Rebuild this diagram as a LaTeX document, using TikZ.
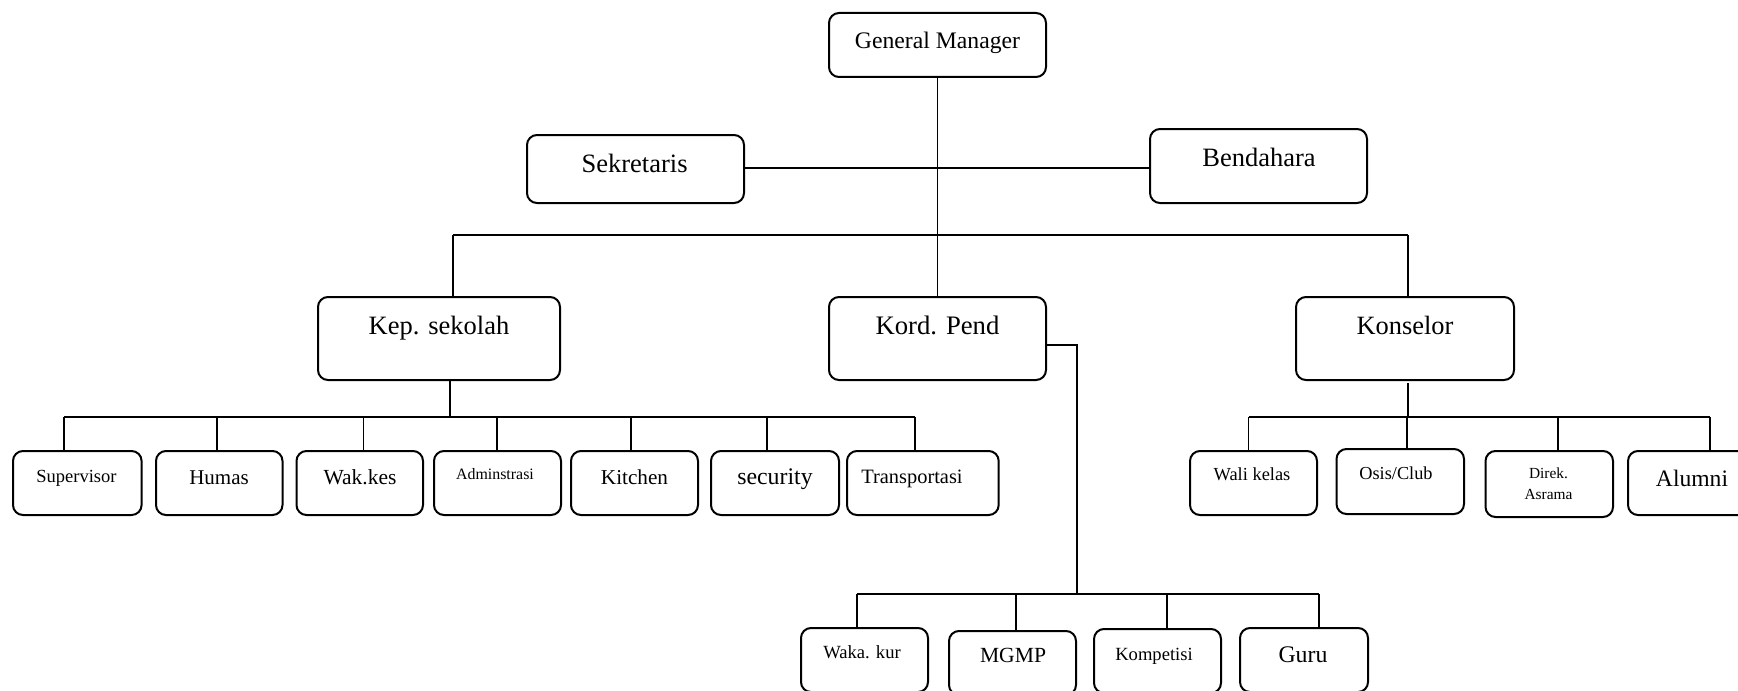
\documentclass[tikz,border=0pt]{standalone}
\usepackage{fontspec}
\setmainfont{Liberation Serif}
\newcommand\fsz[1]{\fontsize{#1}{#1}\selectfont}
\tikzset{
  obox/.style={draw, rounded corners=5pt, line width=1pt, inner sep=0pt, outer sep=0pt},
  conn/.style={line width=0.8pt},
  lbl/.style={anchor=base, inner sep=0pt, outer sep=0pt},
}
\newcommand\mkbox[5]{\node[obox, minimum width=#4*0.5pt, minimum height=#5*0.5pt] (#1) at (#2,#3) {};}
\begin{document}
\begin{tikzpicture}[x=0.5pt, y=-0.5pt]
\useasboundingbox (0,0) rectangle (1738,690);
\clip (0,0) rectangle (1738,690);
% ---- top level boxes
\mkbox{gm}{937.5}{45}{217}{64}
\mkbox{sek}{635.5}{169}{217}{68}
\mkbox{ben}{1258.5}{166}{217}{74}
\mkbox{kep}{439}{338.5}{242}{83}
\mkbox{kord}{937.5}{338.5}{217}{83}
\mkbox{kon}{1405}{338.5}{218}{83}
% ---- left row
\mkbox{sup}{77.3}{483}{128.6}{64}
\mkbox{hum}{219.25}{483}{126.5}{64}
\mkbox{wak}{359.75}{483}{126.5}{64}
\mkbox{adm}{497.5}{483}{127}{64}
\mkbox{kit}{634.5}{483}{127}{64}
\mkbox{sec}{775}{483}{128}{64}
\mkbox{tra}{922.85}{483}{151.7}{64}
% ---- right row
\mkbox{wal}{1253.5}{483}{127}{64}
\mkbox{osi}{1400.25}{481.5}{127.5}{65}
\mkbox{dir}{1549.25}{484}{127.5}{66}
\mkbox{alu}{1691.5}{483}{127}{64}
% ---- bottom row
\mkbox{wk}{864.5}{660}{127}{64}
\mkbox{mg}{1012.5}{663}{127}{64}
\mkbox{ko}{1157.5}{661}{127}{64}
\mkbox{gu}{1304}{660}{128}{64}
% ---- labels
\node[lbl, font=\fsz{11.85}] (gm-t) at (937.5,48.3) {General Manager};
\node[lbl, font=\fsz{13.25}] (sek-t) at (634.6,172.7) {Sekretaris};
\node[lbl, font=\fsz{13.25}] (ben-t) at (1259,166.7) {Bendahara};
\node[lbl, font=\fsz{13.25}] (kep-t) at (439,334) {Kep. sekolah};
\node[lbl, font=\fsz{13.35}] (kord-t) at (937.5,334) {Kord. Pend};
\node[lbl, font=\fsz{13.2}] (kon-t) at (1405,334) {Konselor};
\node[lbl, font=\fsz{9.25}] (sup-t) at (76.5,482) {Supervisor};
\node[lbl, font=\fsz{10.5}] (hum-t) at (219,484.3) {Humas};
\node[lbl, font=\fsz{10.75}] (wak-t) at (360,484) {Wak.kes};
\node[lbl, font=\fsz{7.95}] (adm-t) at (495,479) {Adminstrasi};
\node[lbl, font=\fsz{10.6}] (kit-t) at (634.5,484) {Kitchen};
\node[lbl, font=\fsz{11.9}] (sec-t) at (775,484.3) {security};
\node[lbl, font=\fsz{10.2}] (tra-t) at (912,483) {Transportasi};
\node[lbl, font=\fsz{9.2}] (wal-t) at (1252,480.7) {Wali kelas};
\node[lbl, font=\fsz{9.15}] (osi-t) at (1396,479.3) {Osis/Club};
\node[lbl, font=\fsz{7.7}] (dir-t1) at (1548.5,478.7) {Direk.};
\node[lbl, font=\fsz{7.7}] (dir-t2) at (1548.5,499.3) {Asrama};
\node[lbl, font=\fsz{11.8}] (alu-t) at (1692,486) {Alumni};
\node[lbl, font=\fsz{9.3}] (wk-t) at (862,658.7) {Waka. kur};
\node[lbl, font=\fsz{10.8}] (mg-t) at (1013,662.3) {MGMP};
\node[lbl, font=\fsz{9.3}] (ko-t) at (1154,660) {Kompetisi};
\node[lbl, font=\fsz{11.9}] (gu-t) at (1303,662.7) {Guru};
% ---- bus coordinates
\coordinate (ySB) at (0,168);
\coordinate (b1l) at (453,235);
\coordinate (b1r) at (1408,235);
\coordinate (yK) at (0,345);
\coordinate (kx) at (1077,345);
\coordinate (b3) at (1077,594);
\coordinate (b3l) at (857,594);
\coordinate (b3r) at (1319,594);
\coordinate (kepd) at (450,417);
\coordinate (b2l) at (64,417);
\coordinate (b2r) at (915,417);
\coordinate (kond) at (1408,417);
\coordinate (b4l) at (1248.5,417);
\coordinate (b4r) at (1710,417);
% ---- connectors
\draw[conn] (gm.south) -- (kord.north);
\draw[conn] (sek.east |- ySB) -- (ben.west |- ySB);
\draw[conn] (b1l) -- (b1r);
\draw[conn] (b1l) -- (b1l |- kep.north);
\draw[conn] (b1r) -- (b1r |- kon.north);
\draw[conn] (kord.east |- yK) -- (kx) -- (b3);
\draw[conn] (b3l) -- (b3r);
\draw[conn] (b3l) -- (b3l |- wk.north);
\draw[conn] (b3 -| 1016,0) -- (1016,0 |- mg.north);
\draw[conn] (b3 -| 1167,0) -- (1167,0 |- ko.north);
\draw[conn] (b3r) -- (b3r |- gu.north);
% kep sekolah
\draw[conn] (kepd |- kep.south) -- (kepd);
\draw[conn] (b2l) -- (b2r);
\draw[conn] (b2l) -- (b2l |- sup.north);
\draw[conn] (kepd -| 217,0) -- (217,0 |- hum.north);
\draw[conn] (kepd -| 363.5,0) -- (363.5,0 |- wak.north);
\draw[conn] (kepd -| 497,0) -- (497,0 |- adm.north);
\draw[conn] (kepd -| 631,0) -- (631,0 |- kit.north);
\draw[conn] (kepd -| 767,0) -- (767,0 |- sec.north);
\draw[conn] (b2r) -- (b2r |- tra.north);
% konselor
\draw[conn] ([yshift=-1.5pt]kond |- kon.south) -- (kond);
\draw[conn] (b4l) -- (b4r);
\draw[conn] (b4l) -- (b4l |- wal.north);
\draw[conn] (kond -| 1407,0) -- (1407,0 |- osi.north);
\draw[conn] (kond -| 1558,0) -- (1558,0 |- dir.north);
\draw[conn] (b4r) -- (b4r |- alu.north);
\end{tikzpicture}
\end{document}
